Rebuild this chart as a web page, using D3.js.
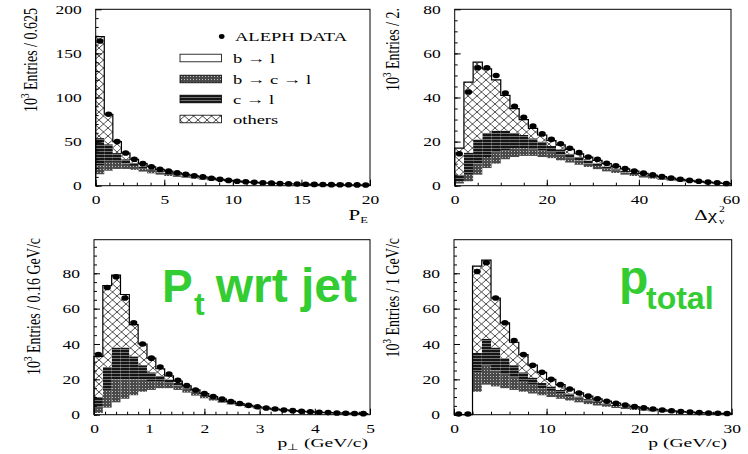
<!DOCTYPE html>
<html>
<head>
<meta charset="utf-8">
<script src="https://cdnjs.cloudflare.com/ajax/libs/d3/7.8.5/d3.min.js"></script>
<style>
body { margin: 0; background: #fff; }
text.serif, .axis text { font-family: "Liberation Serif", "Times New Roman", serif; }
</style>
</head>
<body>
<svg id="fig" width="748" height="454"></svg>
<script>
// ---- P_E, bins of 0.625 (10^3 entries) ----
const pe_bl   = [13, 17, 19, 19, 18, 16, 14, 12.5, 11, 10, 9, 8, 7, 6, 5.2, 4.4, 3.7, 3.2, 2.8, 2.4, 2.1, 1.8, 1.6, 1.4, 1.2, 1.1, 1.0, 0.9, 0.8, 0.7, 0.65, 0.6];
const pe_bcl  = [10, 10, 8, 6, 4.5, 3.5, 3, 2.5, 2.2, 1.9, 1.7, 1.4, 1.2, 1.0, 0.8, 0.6, 0.5, 0.4, 0.4, 0.3, 0.3, 0.3, 0.2, 0.2, 0.2, 0.15, 0.1, 0.1, 0.1, 0.1, 0.1, 0.1];
const pe_cl   = [31, 20, 10, 5, 3.5, 2.5, 2, 1.5, 1.3, 1.1, 1, 0.8, 0.7, 0.6, 0.5, 0.4, 0.35, 0.3, 0.25, 0.2, 0.2, 0.15, 0.15, 0.1, 0.1, 0.1, 0.1, 0.1, 0.1, 0.1, 0.05, 0.05];
const pe_oth  = [115, 34, 13, 7, 4, 3, 2.5, 2, 2, 1.5, 1.3, 1.1, 1.1, 0.9, 0.7, 0.6, 0.55, 0.5, 0.35, 0.4, 0.3, 0.25, 0.25, 0.2, 0.2, 0.15, 0.1, 0.1, 0.1, 0.1, 0.1, 0.05];
const pe_data = [164, 81, 50, 37, 30, 25, 21.5, 18.5, 16.5, 14.5, 13, 11.3, 10, 8.5, 7.2, 6, 5.1, 4.4, 3.8, 3.3, 2.9, 2.5, 2.2, 1.9, 1.7, 1.5, 1.3, 1.2, 1.1, 1.0, 0.9, 0.8];

// ---- delta chi2, bins of 2 ----
const chi_bl   = [1, 2, 5, 8, 10, 12, 13, 13.5, 13.5, 13, 12.5, 11.5, 10.5, 9.5, 8.5, 7.5, 6.5, 5.8, 5.0, 4.4, 3.7, 3.2, 2.7, 2.3, 1.9, 1.6, 1.3, 1.1, 0.9, 0.7];
const chi_bcl  = [1, 3, 5, 5, 5, 4, 4, 3.5, 3, 3, 2.5, 2.5, 2, 2, 1.5, 1.5, 1.3, 1.1, 1.0, 0.9, 0.8, 0.7, 0.6, 0.5, 0.4, 0.35, 0.3, 0.2, 0.2, 0.1];
const chi_cl   = [3, 10, 11, 11, 10, 9, 7, 6, 5, 4, 3, 2.5, 2, 1.5, 1.5, 1.2, 1.0, 0.9, 0.8, 0.6, 0.5, 0.4, 0.4, 0.3, 0.3, 0.2, 0.2, 0.15, 0.1, 0.1];
const chi_oth  = [12, 32, 35, 29, 23, 16, 11, 7, 4.5, 3, 2.5, 2, 2, 1.5, 1.5, 1.3, 1.2, 1.0, 0.8, 0.7, 0.6, 0.5, 0.4, 0.3, 0.3, 0.25, 0.2, 0.15, 0.1, 0.1];
const chi_data = [14.5, 42.5, 53.5, 53.5, 50, 42, 36, 31, 27, 23.5, 21, 19, 17, 15, 13, 12, 10.2, 9, 7.8, 6.7, 5.7, 4.9, 4.1, 3.5, 2.9, 2.4, 2.0, 1.6, 1.3, 1.0];

// ---- p_perp, bins of 0.16 GeV/c ----
const pt_bl   = [1, 4, 7, 9, 11, 13, 14, 15, 15, 14, 12.5, 10.8, 9.3, 8, 6.8, 5.8, 4.9, 4.1, 3.5, 2.9, 2.5, 2.1, 1.8, 1.5, 1.25, 1.1, 0.95, 0.8, 0.65, 0.55, 0.5];
const pt_bcl  = [3, 10, 13, 11, 9, 7, 5, 4, 3, 2.5, 2, 1.7, 1.4, 1.2, 1.0, 0.8, 0.7, 0.6, 0.5, 0.45, 0.35, 0.3, 0.25, 0.2, 0.15, 0.1, 0.1, 0.1, 0.05, 0.05, 0.05];
const pt_cl   = [6, 13, 18, 18, 13, 8, 5, 3, 2, 1.5, 1, 0.8, 0.7, 0.6, 0.5, 0.45, 0.35, 0.3, 0.25, 0.2, 0.15, 0.15, 0.1, 0.1, 0.1, 0.1, 0.05, 0.05, 0.05, 0.05, 0.03];
const pt_oth  = [23, 46, 41, 30, 18, 12, 8, 4, 2, 1, 0.8, 0.7, 0.6, 0.5, 0.5, 0.45, 0.35, 0.3, 0.25, 0.25, 0.2, 0.15, 0.15, 0.1, 0.1, 0.1, 0.1, 0.05, 0.1, 0.1, 0.02];
const pt_data = [34, 72, 78, 66, 52, 40, 32, 27, 23, 19.5, 16.5, 14, 12, 10.3, 8.8, 7.5, 6.3, 5.3, 4.5, 3.8, 3.2, 2.7, 2.3, 1.9, 1.6, 1.4, 1.2, 1.0, 0.8, 0.7, 0.6];

// ---- p total, bins of 1 GeV/c ----
const p_bl   = [0, 0, 13, 17, 16, 15, 14, 13, 12, 11, 10, 9, 8, 7, 6, 5.2, 4.5, 3.8, 3.2, 2.7, 2.3, 1.9, 1.6, 1.3, 1.1, 0.9, 0.7, 0.6, 0.5, 0.4];
const p_bcl  = [0, 0, 11, 11, 9, 8, 7, 6, 5, 4, 3.5, 3, 2.5, 2, 1.8, 1.5, 1.3, 1.1, 0.9, 0.8, 0.6, 0.5, 0.4, 0.35, 0.3, 0.25, 0.2, 0.15, 0.1, 0.1];
const p_cl   = [0, 0, 11, 15, 13, 9, 7, 5, 4, 3, 2.5, 2, 1.5, 1.3, 1, 0.9, 0.7, 0.6, 0.5, 0.4, 0.35, 0.3, 0.25, 0.2, 0.15, 0.1, 0.1, 0.1, 0.1, 0.1];
const p_oth  = [0, 0, 49, 44.5, 28, 20, 13, 10, 7, 6, 4, 3, 2.5, 2, 1.7, 1.4, 1.2, 1.0, 0.9, 0.7, 0.65, 0.5, 0.45, 0.35, 0.25, 0.25, 0.2, 0.15, 0.1, 0.1];
const p_data = [0.4, 0.4, 81, 86, 66, 52, 42, 34, 28, 24, 20, 17, 14.5, 12.3, 10.5, 9, 7.6, 6.5, 5.5, 4.6, 3.9, 3.2, 2.7, 2.2, 1.8, 1.5, 1.2, 1.0, 0.8, 0.7];

const legend_labels = ["ALEPH DATA", "b \u2192 l", "b \u2192 c \u2192 l", "c \u2192 l", "others"];
const keys = ["bl", "bcl", "cl", "oth"];

const svg = d3.select("#fig");
const defs = svg.append("defs");

// fill patterns
const pCross = defs.append("pattern").attr("id", "pCross").attr("patternUnits", "userSpaceOnUse")
  .attr("width", 9).attr("height", 8);
pCross.append("rect").attr("width", 9).attr("height", 8).attr("fill", "#fff");
pCross.append("path").attr("d", "M0,0L9,8M9,0L0,8").attr("stroke", "#000").attr("stroke-width", 0.7);

const pLines = defs.append("pattern").attr("id", "pLines").attr("patternUnits", "userSpaceOnUse")
  .attr("width", 4).attr("height", 3);
pLines.append("rect").attr("width", 4).attr("height", 3).attr("fill", "#151515");
pLines.append("path").attr("d", "M0,1.5H4").attr("stroke", "#8a8a8a").attr("stroke-width", 0.8);

const pDots = defs.append("pattern").attr("id", "pDots").attr("patternUnits", "userSpaceOnUse")
  .attr("width", 3).attr("height", 3);
pDots.append("rect").attr("width", 3).attr("height", 3).attr("fill", "#4a4a4a");
pDots.append("rect").attr("x", 1).attr("y", 1).attr("width", 1).attr("height", 1).attr("fill", "#c0c0c0");

const fills = { bl: "#fff", bcl: "url(#pDots)", cl: "url(#pLines)", oth: "url(#pCross)" };

// stretched serif text (the original is drawn wide)
function wtext(g, x, y, txt, size, sx, anchor) {
  return g.append("text").attr("class", "serif")
    .attr("transform", `translate(${x},${y}) scale(${sx},1)`)
    .attr("font-size", size).attr("text-anchor", anchor || "start").text(txt);
}

function panel(o) {
  const x = d3.scaleLinear().domain(o.xdom).range([o.left, o.right]);
  const y = d3.scaleLinear().domain(o.ydom).range([o.bottom, o.top]);
  const g = svg.append("g");
  const n = o.bl.length;
  const rows = o.bl.map((v, i) => ({ i: i, bl: v, bcl: o.bcl[i], cl: o.cl[i], oth: o.oth[i] }));
  const series = d3.stack().keys(keys)(rows);

  g.selectAll("g.layer").data(series).enter().append("g")
    .attr("fill", d => fills[d.key])
    .selectAll("rect").data(d => d).enter().append("rect")
    .attr("x", d => x(d.data.i * o.bw))
    .attr("width", d => x((d.data.i + 1) * o.bw) - x(d.data.i * o.bw))
    .attr("y", d => y(d[1]))
    .attr("height", d => y(d[0]) - y(d[1]));

  // outline of the summed histogram
  const top = series[series.length - 1];
  const pts = [[0, 0]];
  top.forEach(d => pts.push([d.data.i * o.bw, d[1]]));
  pts.push([n * o.bw, top[n - 1][1]]);
  pts.push([n * o.bw, 0]);
  g.append("path")
    .attr("d", d3.line().x(p => x(p[0])).y(p => y(p[1])).curve(d3.curveStepAfter)(pts))
    .attr("fill", "none").attr("stroke", "#000").attr("stroke-width", 1.2);

  // data points
  g.selectAll("ellipse").data(o.data).enter().append("ellipse")
    .attr("cx", (d, i) => x((i + 0.5) * o.bw))
    .attr("cy", d => y(d))
    .attr("rx", 3.6).attr("ry", 2.8).attr("fill", "#000");

  // frame
  g.append("rect").attr("x", o.left).attr("y", o.top)
    .attr("width", o.right - o.left).attr("height", o.bottom - o.top)
    .attr("fill", "none").attr("stroke", "#000").attr("stroke-width", 1);

  // axes, ticks inside
  const xMin = g.append("g").attr("transform", `translate(0,${o.bottom})`)
    .call(d3.axisBottom(x).tickValues(o.xminor).tickSize(-3).tickFormat(""));
  const xMaj = g.append("g").attr("class", "axis").attr("transform", `translate(0,${o.bottom})`)
    .call(d3.axisBottom(x).tickValues(o.xmajor).tickSize(-6).tickFormat(d3.format("d")));
  const yMin = g.append("g").attr("transform", `translate(${o.left},0)`)
    .call(d3.axisLeft(y).tickValues(o.yminor).tickSize(-3).tickFormat(""));
  const yMaj = g.append("g").attr("class", "axis").attr("transform", `translate(${o.left},0)`)
    .call(d3.axisLeft(y).tickValues(o.ymajor).tickSize(-6).tickFormat(d3.format("d")));
  [xMin, xMaj, yMin, yMaj].forEach(a => {
    a.select(".domain").remove();
    a.selectAll("line").attr("stroke", "#000");
  });
  const sx = 1.4;
  xMaj.selectAll("text").attr("font-size", 12.5)
    .attr("fill", "#000").attr("y", 0).attr("dy", 0)
    .attr("transform", `translate(0,18.5) scale(${sx},1)`);
  yMaj.selectAll("text").attr("font-size", 12.5)
    .attr("fill", "#000").attr("x", 0).attr("dy", "0.33em")
    .attr("transform", `translate(-14,0) scale(${sx},1)`);

  // y title, rotated, ending at the top of the axis, glyphs drawn thick
  const yt = g.append("text").attr("class", "serif")
    .attr("transform", `translate(${o.ytx},${o.yty}) rotate(-90) scale(1,1.35)`)
    .attr("text-anchor", "end").attr("font-size", 14);
  yt.append("tspan").text("10");
  yt.append("tspan").attr("font-size", 9).attr("dy", -6).text("3");
  yt.append("tspan").attr("dy", 6).text(" Entries / " + o.ybin);
  return { g: g, x: x, y: y };
}

const P1 = panel({
  xdom: [0, 20], ydom: [0, 200], left: 95.7, right: 370, top: 9.3, bottom: 185.7, bw: 0.625,
  bl: pe_bl, bcl: pe_bcl, cl: pe_cl, oth: pe_oth, data: pe_data,
  xmajor: [0, 5, 10, 15, 20], xminor: d3.range(0, 20, 1),
  ymajor: [0, 50, 100, 150, 200], yminor: d3.range(0, 200, 10),
  ytx: 37, yty: 8, ybin: "0.625"
});
const P2 = panel({
  xdom: [0, 60], ydom: [0, 80], left: 454.7, right: 731, top: 9.3, bottom: 185.7, bw: 2,
  bl: chi_bl, bcl: chi_bcl, cl: chi_cl, oth: chi_oth, data: chi_data,
  xmajor: [0, 20, 40, 60], xminor: d3.range(0, 60, 5),
  ymajor: [0, 20, 40, 60, 80], yminor: d3.range(0, 80, 5),
  ytx: 399, yty: 8, ybin: "2."
});
const P3 = panel({
  xdom: [0, 5], ydom: [0, 99], left: 94, right: 370, top: 239.7, bottom: 414.7, bw: 0.16,
  bl: pt_bl, bcl: pt_bcl, cl: pt_cl, oth: pt_oth, data: pt_data,
  xmajor: [0, 1, 2, 3, 4, 5], xminor: d3.range(0, 5, 0.2),
  ymajor: [0, 20, 40, 60, 80], yminor: d3.range(0, 99, 5),
  ytx: 40, yty: 238, ybin: "0.16 GeV/c"
});
const P4 = panel({
  xdom: [0, 30], ydom: [0, 99], left: 454, right: 731.7, top: 239.7, bottom: 414.7, bw: 1,
  bl: p_bl, bcl: p_bcl, cl: p_cl, oth: p_oth, data: p_data,
  xmajor: [0, 10, 20, 30], xminor: d3.range(0, 30, 2),
  ymajor: [0, 20, 40, 60, 80], yminor: d3.range(0, 99, 5),
  ytx: 399, yty: 238, ybin: "1 GeV/c"
});

// x titles
const t1 = svg.append("text").attr("class", "serif").attr("transform", "translate(368,220) scale(1.4,1)")
  .attr("text-anchor", "end").attr("font-size", 15);
t1.append("tspan").text("P");
t1.append("tspan").attr("font-size", 9).attr("dy", 3).text("E");

wtext(svg, 717, 220, "\u0394\u03c7", 15, 1.4, "end");
wtext(svg, 719, 212, "2", 9, 1.3);
wtext(svg, 719, 224, "\u03bd", 9, 1.3);

const t3 = svg.append("text").attr("class", "serif").attr("transform", "translate(368,447) scale(1.45,1)")
  .attr("text-anchor", "end").attr("font-size", 13.5);
t3.append("tspan").text("p");
t3.append("tspan").attr("font-size", 9).attr("dy", 3).text("\u22a5");
t3.append("tspan").attr("dy", -3).text(" (GeV/c)");

wtext(svg, 727, 447, "p (GeV/c)", 13.5, 1.45, "end");

// legend in the first panel
const lg = svg.append("g");
lg.append("ellipse").attr("cx", 221.7).attr("cy", 36.5).attr("rx", 2.8).attr("ry", 2.4).attr("fill", "#000");
wtext(lg, 235, 40.7, legend_labels[0], 13.5, 1.37);
const legendRows = [58, 79, 99, 119];
const legendFills = [fills.bl, fills.bcl, fills.cl, fills.oth];
legendRows.forEach((cy, k) => {
  lg.append("rect").attr("x", 180).attr("y", cy - 3.8).attr("width", 41.5).attr("height", 7.6)
    .attr("fill", legendFills[k]).attr("stroke", "#000").attr("stroke-width", 0.8);
  wtext(lg, 233, cy + 4.5, legend_labels[k + 1], 13.5, 1.37);
});

// green annotations
const gt = svg.append("g").attr("fill", "#33cc33")
  .style("font-family", "'Liberation Sans', Arial, sans-serif").style("font-weight", "bold");
gt.append("text").attr("x", 162).attr("y", 302).attr("font-size", 46).text("P");
gt.append("text").attr("x", 194).attr("y", 315).attr("font-size", 32).text("t");
gt.append("text").attr("x", 357).attr("y", 302).attr("font-size", 48).attr("text-anchor", "end").text("wrt jet");
gt.append("text").attr("x", 619).attr("y", 294).attr("font-size", 48).text("p");
gt.append("text").attr("x", 646).attr("y", 309).attr("font-size", 32).text("total");
</script>
</body>
</html>
